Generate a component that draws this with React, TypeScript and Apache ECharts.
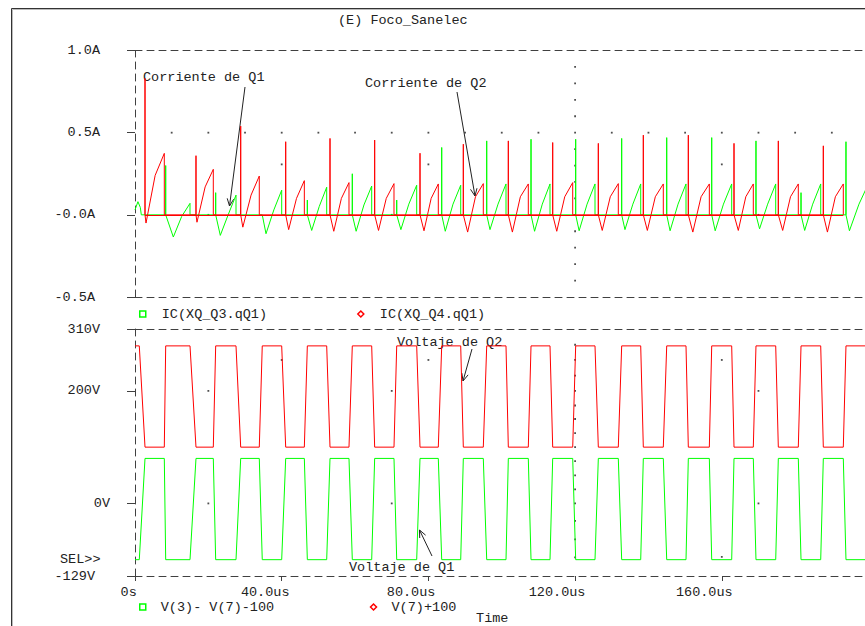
import React, { useEffect, useRef } from 'react';
import * as echarts from 'echarts';

const FONT = "'Liberation Mono', 'Courier New', 'DejaVu Sans Mono', monospace";
const FS = 13.5;
const TXT = '#222';
const AX = '#404040';
const RED = '#ff0000';
const GREEN = '#00ff00';
const DASH = [7, 5];

// ---- voltage switching edges (us) ----
const vFallStart = [1.17, 15.0, 27.54, 40.0, 52.27, 64.54, 76.81, 88.81, 101.16, 113.16, 125.43, 137.89, 150.24, 162.7, 174.7, 186.97];
const vFallEnd = [2.73, 16.63, 28.82, 41.09, 53.17, 65.35, 77.71, 89.52, 101.79, 113.89, 126.33, 138.6, 150.87, 163.33, 175.41, 187.68];
const vRiseStart = [7.99, 21.35, 33.89, 46.17, 58.35, 70.62, 82.7, 94.97, 107.24, 119.35, 131.78, 144.05, 156.6, 168.59, 180.86, 193.13];
const vRiseEnd = [8.37, 22.0, 34.7, 46.99, 59.25, 71.36, 83.63, 95.9, 107.98, 120.16, 132.7, 144.98, 157.25, 169.32, 181.6, 193.86];
const redHigh = 280;
const redLow = 100;
const greenHigh = 80;
const greenLow = -100;

// ---- IC(XQ_Q4.qQ1) pulses (red) ----
const q4Spike = [0.83, 0.36, 0.54, 0.445, 0.465, 0.455, 0.375, 0.43, 0.45, 0.44, 0.435, 0.485, 0.485, 0.435, 0.45, 0.42];
const q4DipT = [3.0, 16.9, 29.4, 41.9, 54.2, 66.4, 78.8, 90.7, 102.9, 115.0, 127.4, 139.7, 152.1, 164.5, 176.6, 188.8];
const q4Dip = [-0.05, -0.045, -0.075, -0.09, -0.1, -0.095, -0.097, -0.105, -0.105, -0.1, -0.095, -0.095, -0.105, -0.095, -0.095, -0.105];
const q4Mid = [0.24, 0.17, 0.12, 0.1, 0.1, 0.1, 0.1, 0.11, 0.11, 0.11, 0.11, 0.11, 0.11, 0.11, 0.11, 0.11];
const q4Peak = [0.374, 0.277, 0.236, 0.208, 0.196, 0.19, 0.188, 0.19, 0.188, 0.196, 0.19, 0.188, 0.188, 0.188, 0.188, 0.188];

// ---- IC(XQ_Q3.qQ1) pulses (green) ----
const q3StartT = [0, 0.8, 1.45, 1.72];
const q3StartV = [0.03, 0.08, 0.045, 0];
const q3Spike = [0.3, 0.135, 0.0, 0.09, 0.25, 0.09, 0.41, 0.45, 0.46, 0.46, 0.465, 0.47, 0.47, 0.45, 0.135, 0.445];
const q3DipT = [10.45, 23.26, 35.72, 48.18, 60.3, 72.5, 84.6, 96.8, 108.95, 121.1, 133.6, 145.9, 158.2, 170.3, 182.6, 194.8];
const q3Dip = [-0.135, -0.125, -0.115, -0.095, -0.1, -0.09, -0.1, -0.09, -0.1, -0.097, -0.09, -0.097, -0.097, -0.085, -0.095, -0.097];
const q3Mid = [-0.01, 0.0, 0.03, 0.05, 0.06, 0.065, 0.065, 0.065, 0.065, 0.065, 0.065, 0.065, 0.065, 0.065, 0.065, 0.065];
const q3Peak = [0.07, 0.12, 0.15, 0.168, 0.175, 0.18, 0.18, 0.188, 0.188, 0.188, 0.188, 0.188, 0.188, 0.188, 0.188, 0.19];

// ---- axes ----
const tMin = 0;
const tMax = 200;
const tStep = 40;
const iMin = -0.5;
const iMax = 1.0;
const iStep = 0.5;
const vMin = -129;
const vMax = 310;
const vTicks = [-129, 0, 200, 310];
const timeLabels: Record<number, string> = { 0: '0s', 40: '40.0us', 80: '80.0us', 120: '120.0us', 160: '160.0us' };
const currentLabels: Record<string, string> = { '1': '1.0A', '0.5': '0.5A', '0': '-0.0A', '-0.5': '-0.5A' };
const voltLabels: Record<string, string> = { '310': '310V', '200': '200V', '0': '0V', '-129': '-129V' };

// ---- grid dots ----
const topDots: number[][] = [
  [10, 0.5], [20, 0.5], [30, 0.5], [40, 0.5], [50, 0.5], [60, 0.5], [70, 0.5], [80, 0.5], [90, 0.5], [100, 0.5],
  [110, 0.5], [130, 0.5], [140, 0.5], [150, 0.5], [160, 0.5], [170, 0.5], [180, 0.5], [190, 0.5],
  [20, 0], [70, 0], [170, 0], [40, 0.307], [80, 0.307], [160, 0.307],
  [120, 0.9], [120, 0.8], [120, 0.7], [120, 0.6], [120, 0.5], [120, 0.4], [120, 0.3], [120, 0.2], [120, 0.1],
  [120, 0], [120, -0.1], [120, -0.2], [120, -0.3], [120, -0.4],
];
const bottomDots: number[][] = [
  [20, 200], [20, 0], [70, 200], [70, 0], [170, 200], [170, 0], [40, 255], [80, 255], [160, 255], [160, -95],
  [120, 282], [120, 255], [120, 227], [120, 200], [120, 174], [120, 150], [120, 125], [120, 100], [120, 75],
  [120, 50], [120, 25], [120, 0], [120, -31], [120, -64], [120, -96],
];

const NAME_Q3 = 'IC(XQ_Q3.qQ1)';
const NAME_Q4 = 'IC(XQ_Q4.qQ1)';
const NAME_V1 = 'V(3)- V(7)-100';
const NAME_V2 = 'V(7)+100';

function buildQ4() {
  const d: number[][] = [];
  for (let k = 0; k < vFallEnd.length; k++) {
    const on = vFallEnd[k];
    const off = vRiseStart[k];
    d.push([on, 0], [on, q4Spike[k]], [on, 0], [q4DipT[k], q4Dip[k]], [(q4DipT[k] + off) / 2, q4Mid[k]], [off, q4Peak[k]], [off, 0]);
  }
  return d;
}

function buildQ3() {
  const d: number[][] = q3StartT.map((t, i) => [t, q3StartV[i]]);
  for (let k = 0; k < vRiseEnd.length; k++) {
    const on = vRiseEnd[k];
    const off = k + 1 < vFallStart.length ? vFallStart[k + 1] : tMax;
    d.push([on, 0], [on, q3Spike[k]], [on, 0], [q3DipT[k], q3Dip[k]], [(q3DipT[k] + off) / 2, q3Mid[k]], [off, q3Peak[k]]);
    if (off < tMax) d.push([off, 0]);
  }
  return d;
}

function buildRedV() {
  const d: number[][] = [[tMin, redHigh]];
  for (let k = 0; k < vFallStart.length; k++) {
    d.push([vFallStart[k], redHigh], [vFallEnd[k], redLow], [vRiseStart[k], redLow], [vRiseEnd[k], redHigh]);
  }
  d.push([tMax, redHigh]);
  return d;
}

function buildGreenV() {
  const d: number[][] = [[tMin, greenLow]];
  for (let k = 0; k < vFallStart.length; k++) {
    d.push([vFallStart[k], greenLow], [vFallEnd[k], greenHigh], [vRiseStart[k], greenHigh], [vRiseEnd[k], greenLow]);
  }
  d.push([tMax, greenLow]);
  return d;
}

function arrow(x1: number, y1: number, x2: number, y2: number) {
  const ang = Math.atan2(y2 - y1, x2 - x1);
  const L = 8;
  const a = 0.42;
  const p1 = [x2 - L * Math.cos(ang - a), y2 - L * Math.sin(ang - a)];
  const p2 = [x2 - L * Math.cos(ang + a), y2 - L * Math.sin(ang + a)];
  return [
    { type: 'line', silent: true, shape: { x1, y1, x2, y2 }, style: { stroke: '#222', lineWidth: 1 } },
    { type: 'polyline', silent: true, shape: { points: [p1, [x2, y2], p2] }, style: { stroke: '#222', lineWidth: 1, fill: null } },
  ];
}

function label(text: string, x: number, y: number) {
  return {
    type: 'text',
    silent: true,
    x,
    y,
    style: { text, fontFamily: FONT, fontSize: FS, fill: TXT, verticalAlign: 'middle', align: 'left' },
  };
}

const rt = (pad: number) => ({ fontFamily: FONT, fontSize: FS, color: TXT, padding: [0, pad, 0, 0] });

export default function App() {
  const ref = useRef<HTMLDivElement>(null);
  useEffect(() => {
    document.body.style.margin = '0';
    document.body.style.overflow = 'hidden';
    if (!ref.current) return;
    const chart = echarts.init(ref.current, null, { renderer: 'svg' });
    const GRID_W = 733.5;
    const hiddenTop = {
      type: 'value', min: tMin, max: tMax, interval: tStep, position: 'top',
      axisLine: { show: true, onZero: false, lineStyle: { color: AX, width: 1, type: DASH } },
      axisTick: { show: false }, axisLabel: { show: false }, splitLine: { show: false },
    };
    const legendText = { fontFamily: FONT, fontSize: FS, color: TXT, padding: [0, 0, 0, 11] };
    const option: any = {
      animation: false,
      backgroundColor: '#ffffff',
      title: {
        text: '(E) Foco_Sanelec', left: 338, top: 13, padding: 0,
        textStyle: { fontFamily: FONT, fontSize: FS, fontWeight: 'normal', color: TXT },
      },
      legend: [
        {
          left: 139, top: 307, padding: 0, itemWidth: 6, itemHeight: 6, itemGap: 90, selectedMode: false,
          textStyle: legendText,
          data: [
            { name: NAME_Q3, icon: 'rect', itemStyle: { color: 'rgba(0,0,0,0)', borderColor: GREEN, borderWidth: 1.5 } },
            { name: NAME_Q4, icon: 'diamond', itemStyle: { color: 'rgba(0,0,0,0)', borderColor: RED, borderWidth: 1.5 } },
          ],
        },
        {
          left: 139, top: 600, padding: 0, itemWidth: 6, itemHeight: 6, itemGap: 95.6, selectedMode: false,
          textStyle: { ...legendText, padding: [0, 0, 0, 10] },
          data: [
            { name: NAME_V1, icon: 'rect', itemStyle: { color: 'rgba(0,0,0,0)', borderColor: GREEN, borderWidth: 1.5 } },
            { name: NAME_V2, icon: 'diamond', itemStyle: { color: 'rgba(0,0,0,0)', borderColor: RED, borderWidth: 1.5 } },
          ],
        },
      ],
      grid: [
        { left: 135, top: 50.5, width: GRID_W, height: 246.5, outerBoundsMode: 'none', containLabel: false },
        { left: 135, top: 329, width: GRID_W, height: 247, outerBoundsMode: 'none', containLabel: false },
      ],
      xAxis: [
        {
          type: 'value', gridIndex: 0, min: tMin, max: tMax, interval: tStep,
          axisLine: { show: true, onZero: false, lineStyle: { color: AX, width: 1, type: DASH } },
          axisTick: { show: false }, axisLabel: { show: false }, splitLine: { show: false },
        },
        { ...hiddenTop, gridIndex: 0 },
        {
          type: 'value', gridIndex: 1, min: tMin, max: tMax, interval: tStep,
          name: 'Time', nameLocation: 'middle', nameGap: 35,
          nameTextStyle: { fontFamily: FONT, fontSize: FS, color: TXT, padding: [0, 19, 0, 0] },
          axisLine: { show: true, onZero: false, lineStyle: { color: AX, width: 1, type: DASH } },
          axisTick: { show: true, length: 5, lineStyle: { color: AX, width: 1 } },
          axisLabel: {
            show: true, margin: 9, fontFamily: FONT, fontSize: FS, color: TXT, showMaxLabel: false,
            formatter: (v: number) => {
              const keys: Record<number, string> = { 0: 'a', 40: 'b', 80: 'c', 120: 'd', 160: 'e' };
              return timeLabels[v] ? `{${keys[v]}|${timeLabels[v]}}` : '';
            },
            rich: { a: rt(12.6), b: rt(33), c: rt(34.6), d: rt(36), e: rt(35) },
          },
          splitLine: { show: false },
        },
        { ...hiddenTop, gridIndex: 1 },
      ],
      yAxis: [
        {
          type: 'value', gridIndex: 0, min: iMin, max: iMax, interval: iStep,
          axisLine: { show: true, onZero: false, lineStyle: { color: AX, width: 1, type: DASH } },
          axisTick: { show: true, length: 8, lineStyle: { color: AX, width: 1 } },
          axisLabel: {
            show: true, margin: 35, fontFamily: FONT, fontSize: FS, color: TXT,
            formatter: (v: number) => {
              const s = currentLabels[String(Math.round(v * 10) / 10)] || '';
              return s.startsWith('-') ? `{n|${s}}` : `{p|${s}}`;
            },
            rich: { p: rt(0), n: rt(5) },
          },
          splitLine: { show: false },
        },
        {
          type: 'value', gridIndex: 1, min: vMin, max: vMax,
          axisLine: { show: true, onZero: false, lineStyle: { color: AX, width: 1, type: DASH } },
          axisTick: { show: true, length: 8, customValues: vTicks, lineStyle: { color: AX, width: 1 } },
          axisLabel: {
            show: true, margin: 25, fontFamily: FONT, fontSize: FS, color: TXT, customValues: vTicks,
            formatter: (v: number) => {
              const s = voltLabels[String(Math.round(v))] || '';
              if (s === '0V') return `{z|${s}}`;
              return s.startsWith('-') ? `{n|${s}}` : `{a|${s}}`;
            },
            rich: { a: rt(10), z: rt(0), n: rt(15) },
          },
          splitLine: { show: false },
        },
      ],
      series: [
        {
          name: NAME_Q3, type: 'line', xAxisIndex: 0, yAxisIndex: 0, data: buildQ3(),
          symbol: 'none', showSymbol: false, silent: true,
          lineStyle: { color: GREEN, width: 1 }, itemStyle: { color: GREEN }, z: 2,
        },
        {
          name: NAME_Q4, type: 'line', xAxisIndex: 0, yAxisIndex: 0, data: buildQ4(),
          symbol: 'none', showSymbol: false, silent: true,
          lineStyle: { color: RED, width: 1 }, itemStyle: { color: RED }, z: 3,
          markLine: {
            silent: true, symbol: 'none', label: { show: false },
            lineStyle: { color: RED, width: 1, type: 'solid' },
            data: [[{ coord: [vFallEnd[0], 0] }, { coord: [vRiseStart[vRiseStart.length - 1], 0] }]],
          },
        },
        {
          name: 'gridTop', type: 'scatter', xAxisIndex: 0, yAxisIndex: 0, data: topDots,
          symbol: 'rect', symbolSize: 1.8, silent: true, itemStyle: { color: '#222' }, z: 1,
        },
        {
          name: NAME_V1, type: 'line', xAxisIndex: 2, yAxisIndex: 1, data: buildGreenV(),
          symbol: 'none', showSymbol: false, silent: true,
          lineStyle: { color: GREEN, width: 1 }, itemStyle: { color: GREEN }, z: 2,
        },
        {
          name: NAME_V2, type: 'line', xAxisIndex: 2, yAxisIndex: 1, data: buildRedV(),
          symbol: 'none', showSymbol: false, silent: true,
          lineStyle: { color: RED, width: 1 }, itemStyle: { color: RED }, z: 2,
        },
        {
          name: 'gridBottom', type: 'scatter', xAxisIndex: 2, yAxisIndex: 1, data: bottomDots,
          symbol: 'rect', symbolSize: 1.8, silent: true, itemStyle: { color: '#222' }, z: 1,
        },
      ],
      graphic: [
        { type: 'line', silent: true, shape: { x1: 11.5, y1: 8.5, x2: 865, y2: 8.5 }, style: { stroke: '#333', lineWidth: 1 } },
        { type: 'line', silent: true, shape: { x1: 12.5, y1: 9.5, x2: 865, y2: 9.5 }, style: { stroke: '#bbb', lineWidth: 1 } },
        { type: 'line', silent: true, shape: { x1: 11.5, y1: 8.5, x2: 11.5, y2: 626 }, style: { stroke: '#333', lineWidth: 1 } },
        { type: 'line', silent: true, shape: { x1: 12.5, y1: 9.5, x2: 12.5, y2: 626 }, style: { stroke: '#bbb', lineWidth: 1 } },
        label('SEL>>', 60, 559),
        label('Corriente de Q1', 143, 77),
        ...arrow(245, 87, 229.5, 206),
        label('Corriente de Q2', 365, 83),
        ...arrow(457, 92, 475, 196),
        label('Voltaje de Q2', 397, 342),
        ...arrow(472, 349, 463, 381),
        label('Voltaje de Q1', 349, 567),
        ...arrow(432, 556, 419.5, 530),
      ],
    };
    chart.setOption(option);
    return () => chart.dispose();
  }, []);
  return <div ref={ref} style={{ width: 865, height: 626 }} />;
}
